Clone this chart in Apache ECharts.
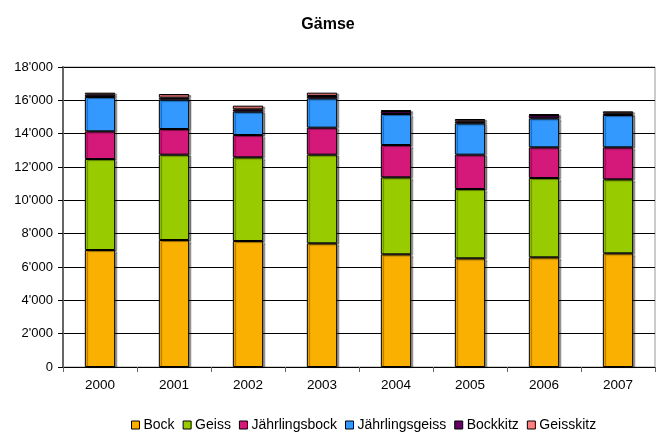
<!DOCTYPE html>
<html>
<head>
<meta charset="utf-8">
<script src="https://cdn.jsdelivr.net/npm/echarts@6/dist/echarts.min.js"></script>
<style>html,body{margin:0;padding:0;background:#fff}#c{width:656px;height:432px}</style>
</head>
<body>
<div id="c"></div>
<script>
const years = ['2000','2001','2002','2003','2004','2005','2006','2007'];
const bock = [7020, 7620, 7560, 7420, 6760, 6520, 6580, 6820];
const geiss = [5460, 5120, 5020, 5320, 4620, 4160, 4760, 4440];
const jaehrlingsbock = [1660, 1540, 1340, 1620, 1940, 2060, 1840, 1920];
const jaehrlingsgeiss = [2060, 1760, 1400, 1760, 1860, 1880, 1740, 1940];
const bockkitz = [140, 120, 140, 140, 180, 120, 200, 100];
const geisskitz = [120, 220, 220, 200, 40, 140, 40, 120];
const seriesNames = ['Bock','Geiss','Jährlingsbock','Jährlingsgeiss','Bockkitz','Geisskitz'];
const seriesData = [bock, geiss, jaehrlingsbock, jaehrlingsgeiss, bockkitz, geisskitz];
const colors = ['#F9B000','#99CC00','#D4197A','#3399FF','#660066','#FF8080'];

const chart = echarts.init(document.getElementById('c'), null, {renderer:'canvas'});
const font = 'Liberation Sans, Arial, sans-serif';
chart.setOption({
  animation: false,
  color: colors,
  title: {
    text: 'Gämse', left: 'center', top: 12,
    textStyle: {fontFamily: font, fontSize: 16, fontWeight: 'bold', color: '#000'}
  },
  legend: {
    top: 413, left: 126,
    itemWidth: 8, itemHeight: 8, itemGap: 8,
    icon: 'rect',
    textStyle: {fontFamily: font, fontSize: 14, color: '#000', padding: [0,0,0,-1]},
    itemStyle: {borderColor: '#000', borderWidth: 1}
  },
  grid: {left: 63, right: 1, top: 67, bottom: 65, show: true, borderColor: '#999', borderWidth: 1},
  xAxis: {
    type: 'category', data: years,
    axisLine: {lineStyle: {color: '#000', width: 1}},
    axisTick: {show: true, length: 5, lineStyle: {color: '#666'}},
    axisLabel: {fontFamily: font, fontSize: 13.5, color: '#000', margin: 11}
  },
  yAxis: {
    type: 'value', min: 0, max: 18000, interval: 2000,
    axisLine: {show: true, lineStyle: {color: '#666', width: 2}},
    axisTick: {show: true, length: 5, lineStyle: {color: '#000'}},
    splitLine: {lineStyle: {color: '#000', width: 1}},
    axisLabel: {
      fontFamily: font, fontSize: 13, color: '#000', margin: 10,
      formatter: v => v >= 1000 ? Math.floor(v/1000) + "'" + String(v % 1000).padStart(3,'0') : String(v)
    }
  },
  series: seriesNames.map((n, i) => ({
    name: n, type: 'bar', stack: 'total', data: seriesData[i],
    barWidth: '41%',
    itemStyle: {borderColor: '#000', borderWidth: 1, shadowColor: 'rgba(0,0,0,0.4)', shadowOffsetX: 2, shadowOffsetY: 1, shadowBlur: 1}
  }))
});
</script>
</body>
</html>
